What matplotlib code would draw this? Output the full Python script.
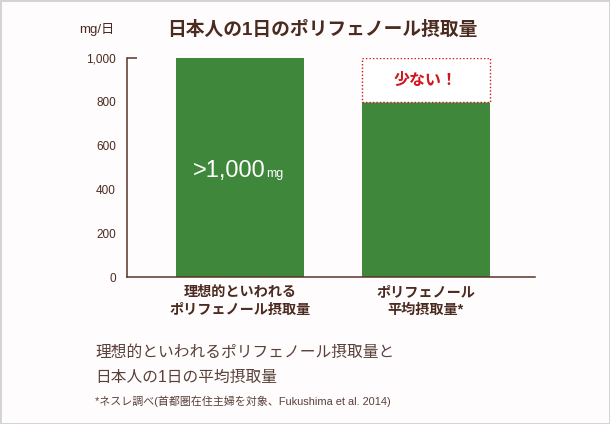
import matplotlib.pyplot as plt

plt.rcParams['font.family'] = ['Liberation Sans', 'Noto Sans CJK JP', 'DejaVu Sans']

# data
categories = ["理想的といわれる\nポリフェノール摂取量", "ポリフェノール\n平均摂取量*"]
values = [1000, 800]
yticks = [0, 200, 400, 600, 800, 1000]
ytick_labels = ["0", "200", "400", "600", "800", "1,000"]

green = "#3f873a"
brown = "#4b2a20"
red = "#d2141e"
bg = "#fefcfc"

fig = plt.figure(figsize=(6.1, 4.24), dpi=100)
fig.patch.set_facecolor(bg)
fig.patch.set_edgecolor("#d4d4d4")
fig.patch.set_linewidth(2)

ax = fig.add_axes([127/610, 1 - 277/424, 408/610, 219/424])
ax.set_facecolor(bg)

x = list(range(len(categories)))
ax.bar(x, values, width=0.69, color=green, zorder=2)

# "少ない!" box for the missing amount
ax.bar(x[1], values[0] - values[1], bottom=values[1], width=0.69,
       facecolor="white", edgecolor=red, linestyle=(0, (1, 1.5)),
       linewidth=1.0, zorder=2)
ax.text(x[1], (values[0] + values[1]) / 2, "少ない！", color=red,
        fontsize=11.5, fontweight="bold", ha="center", va="center")

ax.text(x[0] + 0.14, 457, ">1,000", color="white", fontsize=17,
        ha="right", va="baseline")
ax.text(x[0] + 0.143, 457, "mg", color="white", fontsize=9,
        ha="left", va="baseline")

ax.set_xlim(-0.609, 1.59)
ax.set_ylim(0, 1000)
ax.set_yticks(yticks)
ax.set_yticklabels(ytick_labels, fontsize=8.5, color=brown)
ax.tick_params(axis="y", direction="in", length=7, width=1.1,
               color="#5a3428", pad=8)
for t in ax.yaxis.get_major_ticks()[:-1]:
    t.tick1line.set_visible(False)
ax.set_xticks([])

for s in ["top", "right"]:
    ax.spines[s].set_visible(False)
for s in ["left", "bottom"]:
    ax.spines[s].set_color("#5a3428")
    ax.spines[s].set_linewidth(1.1)

for i, c in zip(x, categories):
    ax.text(i, -0.035, c, transform=ax.get_xaxis_transform(), ha="center",
            va="top", fontsize=10.2, fontweight="bold", color=brown,
            linespacing=1.35)

fig.text(322/610, 1 - 30/424, "日本人の1日のポリフェノール摂取量",
         ha="center", va="center", fontsize=13.5, fontweight="bold",
         color=brown)
fig.text(97/610, 1 - 29/424, "mg/日", ha="center", va="center",
         fontsize=9.5, color=brown)

fig.text(95/610, 1 - 352/424, "理想的といわれるポリフェノール摂取量と",
         ha="left", va="center", fontsize=11.3, color="#5a4038")
fig.text(95/610, 1 - 377/424, "日本人の1日の平均摂取量",
         ha="left", va="center", fontsize=11.3, color="#5a4038")
fig.text(95/610, 1 - 401/424,
         "*ネスレ調べ(首都圏在住主婦を対象、Fukushima et al. 2014)",
         ha="left", va="center", fontsize=7.9, color="#5a4038")

fig.savefig("out.png", dpi=100, facecolor=fig.get_facecolor(),
            edgecolor=fig.get_edgecolor())
